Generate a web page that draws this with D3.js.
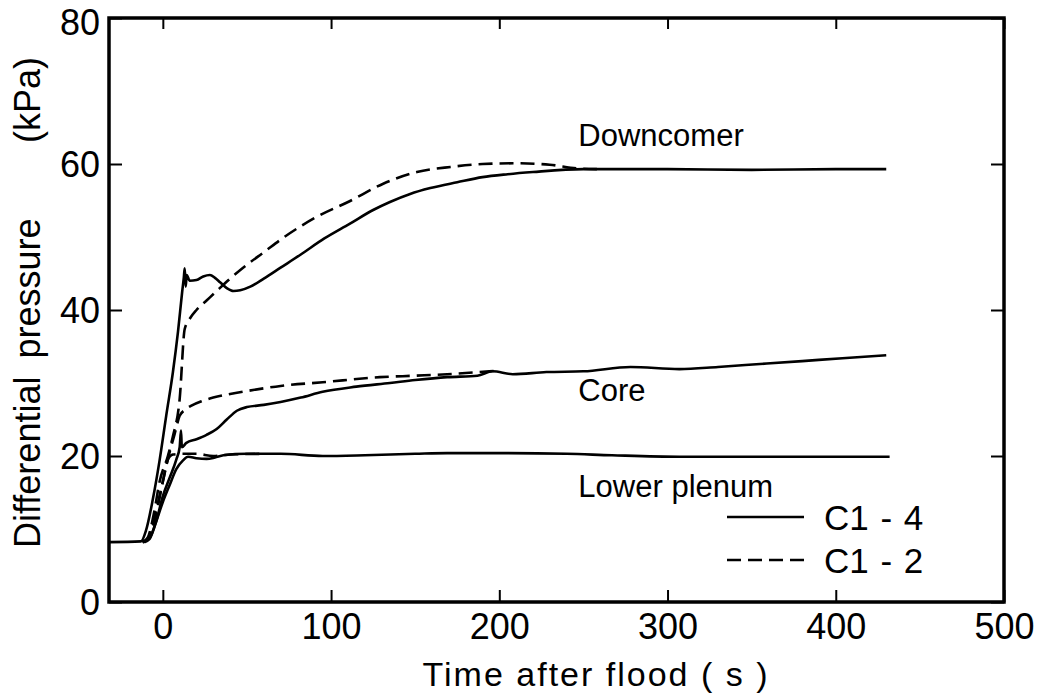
<!DOCTYPE html>
<html>
<head>
<meta charset="utf-8">
<script src="https://cdn.jsdelivr.net/npm/d3@7"></script>
<style>
  body { margin: 0; background: #fff; }
  text { font-family: "Liberation Sans", Arial, sans-serif; fill: #000; }
</style>
</head>
<body>
<svg id="chart" width="1047" height="696"></svg>
<script>
// time after flood (s), differential pressure (kPa)
const xTicks = [0, 100, 200, 300, 400, 500];
const yTicks = [0, 20, 40, 60, 80];

const downcomerC14 = [[-32,8.2],[-13,8.3],[-10,9.8],[-6,14],[-2,19.3],[2,25.5],[6,31.5],[9,37],[11.5,42.5],[12.5,44.5],[13,45.7],[13.6,43.2],[14.2,44.8],[16,44],[20,44.1],[24,44.6],[28,44.8],[31,44.4],[34,43.8],[38,43],[42,42.6],[46,42.7],[52,43.2],[60,44.3],[70,45.8],[82,47.6],[96,49.8],[111,51.8],[125,53.7],[135,54.8],[147,55.9],[159,56.7],[175,57.5],[190,58.2],[205,58.6],[220,58.9],[250,59.3],[300,59.3],[350,59.2],[400,59.3],[430,59.3]];
const downcomerC12 = [[-12,8.2],[-9,8.8],[-5,12.5],[-2,16.4],[3,20],[6,22.7],[10,27.8],[13,37.4],[16,38.8],[20,40],[26,41.3],[32,42.6],[40,44.3],[50,46.2],[60,47.9],[71,49.8],[91,52.7],[111,54.9],[131,57.3],[151,58.9],[171,59.6],[190,60],[210,60.1],[230,59.9],[246,59.4],[258,59.3]];
const coreC14 = [[-12,8.2],[-8,8.7],[-4,11],[0,14.5],[4,17],[8,19.5],[10,21.2],[10.8,23.5],[11.3,21.2],[14,21.8],[20,22.3],[26,22.9],[32,23.7],[38,25],[44,26.2],[50,26.7],[60,27],[70,27.4],[82,28],[95,28.8],[115,29.5],[135,30],[150,30.4],[169,30.8],[187,31],[196,31.6],[208,31.2],[228,31.5],[250,31.6],[278,32.2],[307,31.9],[330,32.2],[355,32.6],[380,33],[404,33.4],[430,33.8]];
const coreC12 = [[-12,8.2],[-8,8.8],[-4,12],[0,16.5],[4,20.5],[7,23],[10,25.5],[13,26.3],[17,26.9],[23,27.5],[30,28],[40,28.5],[50,28.9],[70,29.6],[95,30.1],[129,30.8],[150,31],[169,31.2],[194,31.6],[200,31.7]];
const plenumC14 = [[-11,8.2],[-8,8.6],[-4,11],[0,13.7],[4,16],[8,18.2],[12,19.4],[15,19.9],[20,19.7],[26,19.6],[31,19.8],[36,20.1],[50,20.3],[70,20.3],[95,20],[120,20.1],[150,20.3],[169,20.4],[200,20.4],[240,20.3],[267,20.1],[307,19.9],[350,19.9],[400,19.9],[432,19.9]];
const plenumC12 = [[-12,8.2],[-8,9],[-4,12.5],[0,16.5],[3,19.5],[6,20.2],[12,20.3],[20,20.3],[30,20],[40,20.2],[60,20.3]];

const series = [
  { data: downcomerC14, dash: null },
  { data: coreC14, dash: null },
  { data: plenumC14, dash: null },
  { data: downcomerC12, dash: "14,7" },
  { data: coreC12, dash: "14,7" },
  { data: plenumC12, dash: "14,7" }
];

const labels = [
  { text: "Downcomer", t: 247, v: 62.5 },
  { text: "Core", t: 247, v: 27.5 },
  { text: "Lower plenum", t: 247, v: 14.4 }
];

const svg = d3.select("#chart");
const mLeft = 109, mRight = 1004, mTop = 18, mBottom = 602;

const x = d3.scaleLinear().domain([-32, 500]).range([mLeft, mRight]);
const y = d3.scaleLinear().domain([0, 80]).range([mBottom, mTop]);

// axes with inward ticks
const gx = svg.append("g").attr("transform", `translate(0,${mBottom})`)
  .call(d3.axisBottom(x).tickValues(xTicks).tickSize(-12).tickPadding(11).tickFormat(d3.format("d")));
const gxt = svg.append("g").attr("transform", `translate(0,${mTop})`)
  .call(d3.axisTop(x).tickValues(xTicks).tickSize(-11).tickFormat(""));
const gy = svg.append("g").attr("transform", `translate(${mLeft},0)`)
  .call(d3.axisLeft(y).tickValues(yTicks).tickSize(-13).tickPadding(10).tickFormat(d3.format("d")));
const gyr = svg.append("g").attr("transform", `translate(${mRight},0)`)
  .call(d3.axisRight(y).tickValues(yTicks).tickSize(-13).tickFormat(""));

[gx, gxt, gy, gyr].forEach(g => {
  g.select(".domain").remove();
  g.selectAll(".tick line").attr("stroke", "#000").attr("stroke-width", 2);
  g.selectAll("text").attr("font-size", 36).attr("font-family", "Liberation Sans, Arial, sans-serif").attr("fill", "#000");
});
gx.selectAll(".tick text").attr("dy", "0.72em");
gy.selectAll(".tick text").attr("x", -9).attr("dy", "0.36em");
// keep the top label inside the page
gy.selectAll(".tick text").filter(d => d === 80).attr("y", 4);

svg.append("rect")
  .attr("x", mLeft).attr("y", mTop)
  .attr("width", mRight - mLeft).attr("height", mBottom - mTop)
  .attr("fill", "none").attr("stroke", "#000").attr("stroke-width", 3.5);

// axis titles
svg.append("text")
  .attr("x", 596).attr("y", 686)
  .attr("text-anchor", "middle")
  .attr("font-size", 34)
  .attr("letter-spacing", 2)
  .text("Time after flood ( s )");

svg.append("text")
  .attr("transform", "translate(40,548) rotate(-90)")
  .attr("font-size", 36)
  .attr("word-spacing", 8)
  .text("Differential pressure");
svg.append("text")
  .attr("transform", "translate(40,143) rotate(-90)")
  .attr("font-size", 36)
  .text("(kPa)");

// curves
const line = d3.line()
  .x(d => x(d[0]))
  .y(d => y(d[1]))
  .curve(d3.curveMonotoneX);

svg.append("g").selectAll("path")
  .data(series)
  .join("path")
  .attr("d", d => line(d.data))
  .attr("fill", "none")
  .attr("stroke", "#000")
  .attr("stroke-width", 2.6)
  .attr("stroke-dasharray", d => d.dash);

// curve labels
svg.append("g").selectAll("text")
  .data(labels)
  .join("text")
  .attr("x", d => x(d.t))
  .attr("y", d => y(d.v))
  .attr("font-size", 31)
  .text(d => d.text);

// legend
const legend = [
  { name: "C1 - 4", dash: null, yPos: 517 },
  { name: "C1 - 2", dash: "14,7", yPos: 560 }
];
const lg = svg.append("g").selectAll("g").data(legend).join("g");
lg.append("line")
  .attr("x1", 727).attr("x2", 804)
  .attr("y1", d => d.yPos).attr("y2", d => d.yPos)
  .attr("stroke", "#000").attr("stroke-width", 2.6)
  .attr("stroke-dasharray", d => d.dash);
lg.append("text")
  .attr("x", 824).attr("y", d => d.yPos + 13)
  .attr("font-size", 35)
  .attr("word-spacing", 2)
  .text(d => d.name);
</script>
</body>
</html>
